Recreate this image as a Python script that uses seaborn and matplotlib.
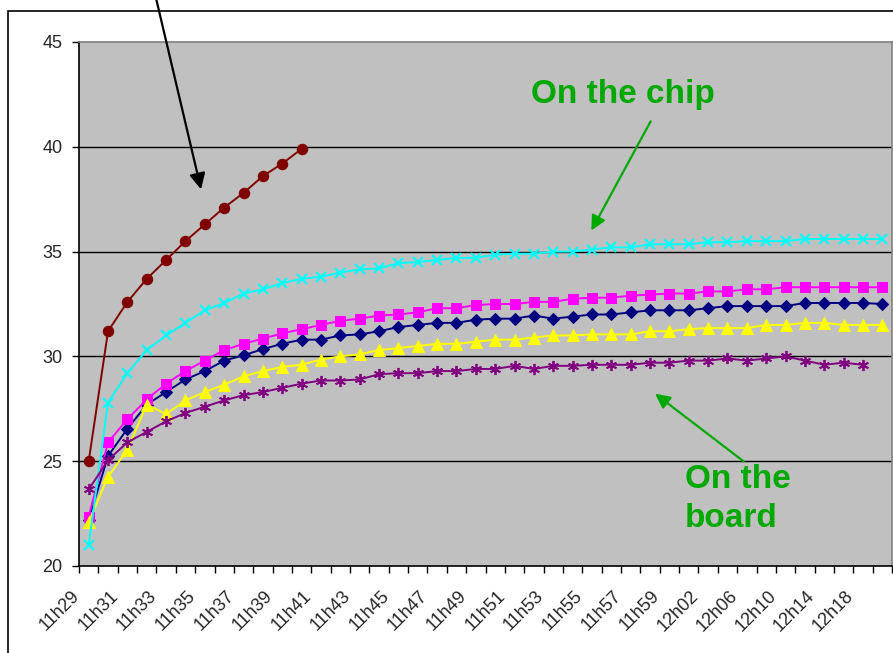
import numpy as np
import pandas as pd
import matplotlib
matplotlib.use("Agg")
import matplotlib.pyplot as plt
import matplotlib.patches as patches
import matplotlib.transforms as mtransforms
import seaborn as sns

# tick labels (every second sample is labelled)
tick_labels = ['11h29', '11h31', '11h33', '11h35', '11h37', '11h39', '11h41',
               '11h43', '11h45', '11h47', '11h49', '11h51', '11h53', '11h55',
               '11h57', '11h59', '12h02', '12h06', '12h10', '12h14', '12h18']

red = [25.0, 31.2, 32.6, 33.7, 34.6, 35.5, 36.3, 37.1, 37.8, 38.6, 39.2, 39.9]

cyan = [21.0, 27.8, 29.2, 30.3, 31.0, 31.6, 32.2, 32.55, 33.0, 33.2, 33.5, 33.7, 33.8,
        34.0, 34.15, 34.2, 34.45, 34.5, 34.6, 34.7, 34.7, 34.85, 34.9, 34.9, 35.0,
        35.0, 35.1, 35.2, 35.2,
        35.35, 35.35, 35.35, 35.45, 35.45, 35.5, 35.5, 35.5, 35.6, 35.6, 35.6, 35.6, 35.6]

magenta = [22.35, 25.9, 27.0, 27.95, 28.7, 29.3, 29.8, 30.3, 30.6, 30.85, 31.1, 31.3, 31.5,
           31.7, 31.8, 31.95, 32.0, 32.1, 32.3, 32.3, 32.45, 32.5, 32.5, 32.6, 32.6,
           32.75, 32.8, 32.8, 32.9,
           32.95, 33.0, 33.0, 33.1, 33.1, 33.2, 33.2, 33.3, 33.3, 33.3, 33.3, 33.3, 33.3]

navy = [22.2, 25.25, 26.55, 27.7, 28.3, 28.9, 29.3, 29.8, 30.05, 30.35, 30.6, 30.8, 30.8,
        31.0, 31.05, 31.2, 31.4, 31.5, 31.6, 31.6, 31.75, 31.8, 31.8, 31.95, 31.8,
        31.9, 32.0, 32.0, 32.1,
        32.2, 32.2, 32.2, 32.3, 32.4, 32.4, 32.4, 32.4, 32.55, 32.55, 32.55, 32.55, 32.5]

yellow = [22.1, 24.25, 25.55, 27.7, 27.25, 27.9, 28.3, 28.65, 29.05, 29.3, 29.5, 29.6, 29.85,
          30.0, 30.1, 30.3, 30.4, 30.5, 30.6, 30.6, 30.7, 30.8, 30.8, 30.9, 31.0,
          31.0, 31.05, 31.05, 31.05,
          31.2, 31.2, 31.3, 31.35, 31.35, 31.35, 31.5, 31.5, 31.6, 31.6, 31.5, 31.5, 31.5]

purple = [23.65, 25.05, 25.9, 26.4, 26.9, 27.3, 27.6, 27.9, 28.15, 28.3, 28.5, 28.7, 28.85,
          28.85, 28.9, 29.15, 29.2, 29.2, 29.3, 29.3, 29.4, 29.4, 29.55, 29.4, 29.55,
          29.55, 29.6, 29.6, 29.6,
          29.7, 29.7, 29.8, 29.8, 29.9, 29.8, 29.9, 30.0, 29.8, 29.6, 29.7, 29.6]

sns.set_style("white")
plt.rcParams['font.family'] = ['Liberation Sans', 'DejaVu Sans']

fig = plt.figure(figsize=(8.93, 6.53), dpi=100)
ax = fig.add_axes([79 / 893, 87 / 653, 813 / 893, 524 / 653])
ax.set_facecolor('#C0C0C0')

# series drawn in Excel order (later ones on top)
series = [
    (navy, '#000080', dict(marker='D', markersize=6.5)),
    (magenta, '#FF00FF', dict(marker='s', markersize=7.5)),
    (yellow, '#FFFF00', dict(marker='^', markersize=8.5)),
    (cyan, '#00FFFF', dict(marker='x', markersize=7.5, markeredgewidth=1.5)),
    (purple, '#800080', dict(marker=(6, 2, 0), markersize=8, markeredgewidth=1.3)),
    (red, '#800000', dict(marker='o', markersize=7.5)),
]
for vals, col, mk in series:
    df = pd.DataFrame({'x': np.arange(len(vals)), 'y': vals})
    sns.lineplot(data=df, x='x', y='y', ax=ax, color=col, lw=1.4,
                 markeredgecolor=col, markerfacecolor=col, **mk)

ax.set_xlim(-0.5, 41.5)
ax.set_ylim(20, 45)
ax.set_xlabel('')
ax.set_ylabel('')

# horizontal grid lines
for yv in [25, 30, 35, 40]:
    ax.axhline(yv, color='black', lw=1.0, zorder=0.5)

ax.set_yticks([20, 25, 30, 35, 40, 45])
ax.tick_params(axis='y', direction='out', length=5, width=1, pad=7,
               labelsize=13, left=True, color='black')

# tick marks between categories, labels on even categories
ax.set_xticks(np.arange(-0.5, 42, 1))
ax.set_xticklabels([])
ax.tick_params(axis='x', which='major', direction='out', length=5, width=1,
               bottom=True, color='black')
ax.set_xticks(np.arange(0, 42, 2), minor=True)
ax.set_xticklabels(tick_labels, minor=True, rotation=45, ha='right',
                   va='center', rotation_mode='anchor', fontsize=13)
ax.tick_params(axis='x', which='minor', length=0, pad=20)
shift = mtransforms.ScaledTranslation(-0.12, 0, fig.dpi_scale_trans)
for lab in ax.get_xticklabels(minor=True):
    lab.set_transform(lab.get_transform() + shift)

for side in ['left', 'bottom']:
    ax.spines[side].set_color('black')
    ax.spines[side].set_linewidth(1.2)
for side in ['top', 'right']:
    ax.spines[side].set_color('#808080')
    ax.spines[side].set_linewidth(1.2)

# annotations
green = '#00A800'
ax.text(27.6, 42.1, 'On the chip', color=green, fontsize=24, fontweight='bold',
        ha='center', va='baseline')
ax.text(30.8, 24.85, 'On the\nboard', color=green, fontsize=24, fontweight='bold',
        ha='left', va='top', linespacing=1.32)
ax.annotate('', xy=(25.9, 35.89), xytext=(29.1, 41.33),
            arrowprops=dict(arrowstyle='-|>', color=green, lw=1.6, mutation_scale=22))
ax.annotate('', xy=(29.15, 28.3), xytext=(33.95, 24.91),
            arrowprops=dict(arrowstyle='-|>', color=green, lw=1.6, mutation_scale=22))
ax.annotate('', xy=(5.84, 37.84), xytext=(3.4, 47.4), annotation_clip=False,
            arrowprops=dict(arrowstyle='-|>', color='black', lw=1.6, mutation_scale=24))

# chart border
fig.patches.append(patches.Rectangle((8 / 893, -0.05), 1.2, 1 - 11 / 653 + 0.05,
                                     transform=fig.transFigure, fill=False,
                                     edgecolor='black', lw=1.2))

fig.savefig('out.png', dpi=100)
